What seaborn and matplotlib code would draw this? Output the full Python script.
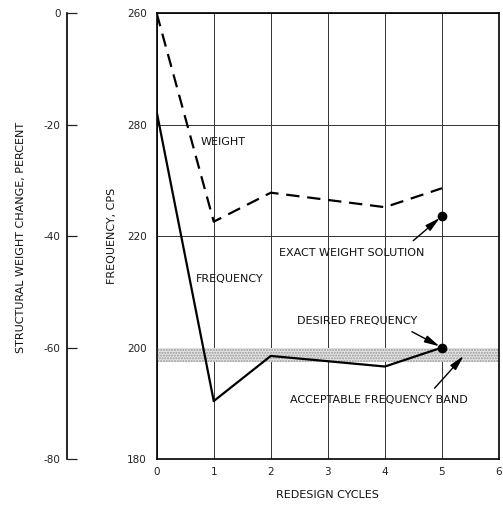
import matplotlib
matplotlib.use("Agg")
import matplotlib.pyplot as plt
import seaborn as sns
import pandas as pd

# ---- data ----
cycles = [0, 1, 2, 4, 5]
frequency_cps = [242.3, 190.4, 198.5, 196.6, 200.0]
weight_change_pct = [0.0, -37.4, -32.2, -34.8, -31.4]
exact_weight_cycle = [5]
exact_weight_pct = [-36.4]
desired_freq_cycle = [5]
desired_freq = [200.0]
band_low, band_high = 197.5, 200.0
freq_ticks = [180, 200, 220, 240, 260]
freq_tick_labels = ["180", "200", "220", "280", "260"]
weight_ticks = [-80, -60, -40, -20, 0]
weight_tick_labels = ["-80", "-60", "-40", "-20", "0"]
x_ticks = [0, 1, 2, 3, 4, 5, 6]

sns.set_style("white")
plt.rcParams["font.family"] = ["DejaVu Sans"]

W, H = 503, 507
fig = plt.figure(figsize=(W / 100, H / 100), dpi=100)
x0, x1, ytop, ybot = 156.7, 499.0, 13.3, 459.0
ax = fig.add_axes([x0 / W, (H - ybot) / H, (x1 - x0) / W, (ybot - ytop) / H])

df_f = pd.DataFrame({"cycle": cycles, "freq": frequency_cps})
df_w = pd.DataFrame({"cycle": cycles, "weight": weight_change_pct})

# band
ax.fill_between([0, 6], band_low, band_high, facecolor="#e4e4e4", edgecolor="#9a9a9a",
                hatch="......", linewidth=0, zorder=1)

ax.set_xlim(0, 6)
ax.set_ylim(180, 260)
ax.set_xticks(x_ticks)
ax.set_yticks(freq_ticks)
ax.set_yticklabels(freq_tick_labels)
ax.grid(True, color="#333333", linewidth=0.7, zorder=0)
ax.set_axisbelow(True)
for s in ax.spines.values():
    s.set_color("black")
    s.set_linewidth(1.2)
ax.tick_params(axis="both", length=0, labelsize=7.5, colors="#222222")
ax.tick_params(axis="y", pad=7)
ax.tick_params(axis="x", pad=6)

sns.lineplot(data=df_f, x="cycle", y="freq", ax=ax, color="black", linewidth=1.6,
             zorder=4, legend=False)
ax.plot(desired_freq_cycle, desired_freq, "o", color="black", markersize=6, zorder=5)

# weight axis
ax2 = ax.twinx()
ax2.set_ylim(-80, 0)
ax2.yaxis.set_ticks_position("left")
ax2.yaxis.set_label_position("left")
ax2.spines["left"].set_position(("outward", 64.8))
for k in ["right", "top", "bottom"]:
    ax2.spines[k].set_visible(False)
ax2.spines["left"].set_visible(True)
ax2.spines["left"].set_linewidth(1.2)
ax2.spines["left"].set_color("black")
ax2.set_yticks(weight_ticks)
ax2.set_yticklabels(weight_tick_labels)
ax2.tick_params(axis="y", direction="in", length=7.5, width=0.9, labelsize=7.5,
                pad=4.5, colors="#222222")
ax2.tick_params(axis="y", which="both", left=True, right=False)
sns.lineplot(data=df_w, x="cycle", y="weight", ax=ax2, color="black", linewidth=1.6,
             zorder=4, legend=False)
ax2.lines[-1].set_dashes([6, 3.5])
ax2.plot(exact_weight_cycle, exact_weight_pct, "o", color="black", markersize=6, zorder=5)
ax2.set_xlim(0, 6)
ax2.set_ylabel("")
ax.set_xlabel("")
ax.set_ylabel("")

fs = 8
ax.text(1.17, 236.95, "WEIGHT", ha="center", va="center", fontsize=fs, color="#111111")
ax.text(1.286, 212.3, "FREQUENCY", ha="center", va="center", fontsize=fs, color="#111111")
ax.text(3.426, 216.98, "EXACT WEIGHT SOLUTION", ha="center", va="center", fontsize=fs,
        color="#111111")
ax.text(3.505, 204.77, "DESIRED FREQUENCY", ha="center", va="center", fontsize=fs,
        color="#111111")
ax.text(3.9, 190.6, "ACCEPTABLE FREQUENCY BAND", ha="center", va="center", fontsize=fs,
        color="#111111")

ap = dict(arrowstyle="-|>,head_length=0.9,head_width=0.22", color="black", lw=1.0,
          shrinkA=0, shrinkB=2)
ax.annotate("", xy=(5, 223.6), xytext=(4.496, 219.18), arrowprops=ap, zorder=6)
ax.annotate("", xy=(5, 200.0), xytext=(4.474, 202.85), arrowprops=ap, zorder=6)
ax.annotate("", xy=(5.379, 198.5), xytext=(4.87, 192.7), arrowprops=dict(ap, shrinkB=0),
            zorder=6)

fig.text(21 / W, 1 - 237 / H, "STRUCTURAL WEIGHT CHANGE, PERCENT", rotation=90,
         ha="center", va="center", fontsize=fs, color="#111111")
fig.text(112 / W, 1 - 236 / H, "FREQUENCY, CPS", rotation=90, ha="center", va="center",
         fontsize=fs, color="#111111")
fig.text(327.5 / W, 1 - 495 / H, "REDESIGN CYCLES", ha="center", va="center",
         fontsize=fs, color="#111111")

fig.savefig("out.png", dpi=100)
